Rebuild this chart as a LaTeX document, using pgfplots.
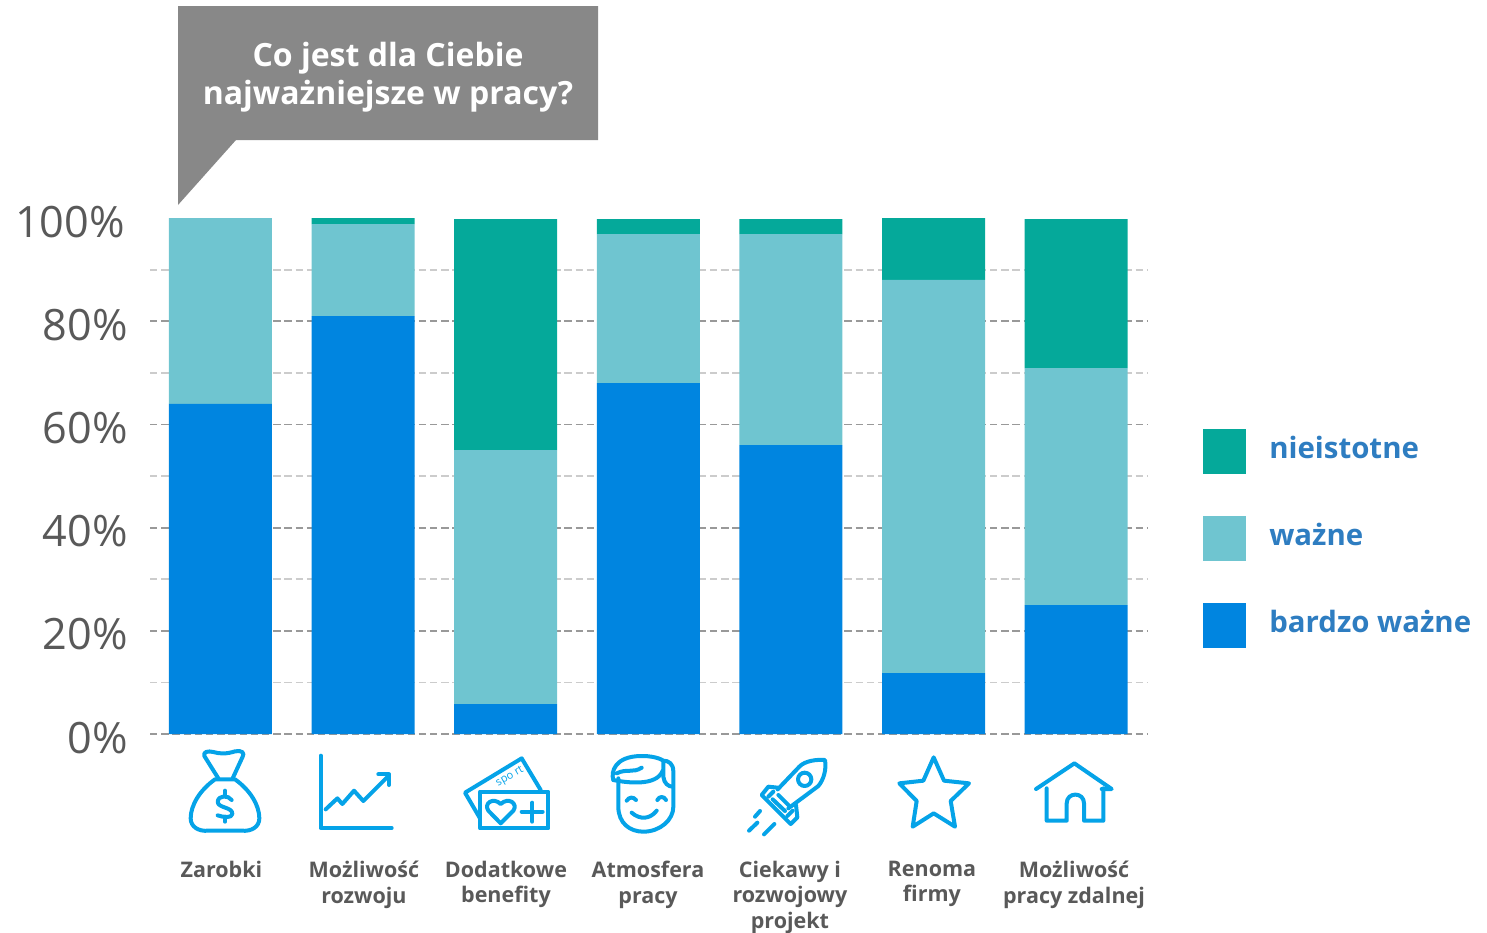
\documentclass[border=0pt]{standalone}
\usepackage{pgfplots}
\pgfplotsset{compat=1.18}
\usepackage{fontspec}
\setmainfont{Open Sans}
\definecolor{cblue}{HTML}{0085E0}
\definecolor{clight}{HTML}{6FC5D0}
\definecolor{cgreen}{HTML}{05A99A}
\definecolor{cicon}{HTML}{05A3E8}
\definecolor{ctext}{HTML}{595959}
\definecolor{clegend}{HTML}{2E7DC1}
\definecolor{ctitle}{HTML}{888888}
\begin{document}
\begin{tikzpicture}
\useasboundingbox (0pt,0pt) rectangle (743.5pt,-466pt);
\begin{axis}[
  at={(75pt,-367pt)},anchor=south west,
  scale only axis,width=499pt,height=258pt,
  ybar stacked,bar width=51.5pt,
  xmin=-0.494,xmax=6.504,ymin=0,ymax=100,
  axis line style={draw=none},
  major tick length=0pt,minor tick length=0pt,
  xtick={0.007,1.006,2.002,2.998,3.993,4.989,5.985},
  xticklabels={Zarobki,{Możliwość\\rozwoju},{Dodatkowe\\benefity},{Atmosfera\\pracy},{Ciekawy i\\rozwojowy\\projekt},{Renoma\\firmy},{Możliwość\\pracy zdalnej}},
  xticklabel style={align=center,yshift=-60pt,font=\fontsize{10.75}{12.75}\selectfont\bfseries,text=ctext},
  ytick={0,20,40,60,80},
  yticklabels={0\%,20\%,40\%,60\%,80\%},
  extra y ticks={100},
  extra y tick labels={100\%},
  extra y tick style={grid=none,yticklabel style={xshift=-1.5pt}},
  minor ytick={10,30,50,70,90},
  yticklabel style={font=\fontsize{21.6}{24}\selectfont,text=ctext,xshift=-7.5pt,yshift=-1.8pt},
  ymajorgrids,yminorgrids,
  major grid style={draw=black!40,line width=0.9pt,dash pattern=on 3.7pt off 1.9pt},
  minor grid style={draw=black!20,line width=0.9pt,dash pattern=on 3.7pt off 1.9pt},
  legend style={at={(1.055,0.6007)},anchor=north west,draw=none,fill=none,inner sep=0pt,
    row sep=18.5pt,column sep=0pt,
    font=\fontsize{14.7}{18}\selectfont\bfseries,text=clegend,
    nodes={inner sep=0pt}},
  legend cell align=left,
  reverse legend,
  legend image code/.code={\fill[#1] (0pt,-13pt) rectangle (21.5pt,9.5pt);\path (33pt,12pt);},
]
\addplot[fill=cblue,draw=none] coordinates {(0,64) (1,81) (2,5.8) (3,68) (4,56) (5,11.8) (6,25)};
\addplot[fill=clight,draw=none] coordinates {(0,36) (1,17.8) (2,49.2) (3,28.9) (4,40.9) (5,76.2) (6,45.9)};
\addplot[fill=cgreen,draw=none] coordinates {(0,0) (1,1.2) (2,44.8) (3,2.9) (4,2.9) (5,12) (6,28.9)};
\legend{bardzo ważne,ważne,nieistotne}
\end{axis}
% speech bubble
\begin{scope}[x=0.5pt,y=-0.5pt]
\fill[ctitle] (178,6)--(598,6)--(598,140)--(236,140)--(178,205)--cycle;
\node[text=white,align=center,font=\fontsize{16}{19}\selectfont\bfseries] at (388,77) {Co jest dla Ciebie\\najważniejsze w pracy?};
\end{scope}
% icons, first part
\begin{scope}[shift={(75pt,-370pt)},x=0.16667pt,y=-0.16667pt,draw=cicon,line width=2pt,line cap=round,line join=round]
\draw (205,115) -- (163,48) .. controls (158,35) and (175,32) .. (190,36) .. controls (210,42) and (230,42) .. (255,34) .. controls (275,30) and (285,38) .. (278,50) -- (248,115);
\draw (195,118) .. controls (150,150) and (122,195) .. (122,235) .. controls (122,260) and (145,275) .. (175,272) -- (275,272) .. controls (305,275) and (328,260) .. (328,235) .. controls (328,195) and (300,150) .. (255,118) -- cycle;
\draw (245,180) .. controls (235,165) and (205,165) .. (203,185) .. controls (203,205) and (248,200) .. (247,222) .. controls (245,235) and (220,232) .. (203,226);
\draw (225,152)--(225,168) (225,230)--(225,245);
\draw (512,47)--(512,264)--(725,264);
\draw (527,208)--(562,175)--(577,192)--(612,152)--(640,183)--(715,108);
\draw (685,103)--(717,103)--(717,135);
\draw (990,235)--(945,158)--(1115,55)--(1172,150);
\draw (990,155) rectangle (1195,265);
\draw (1052,250) -- (1015,212) .. controls (1000,190) and (1030,170) .. (1052,192) .. controls (1075,170) and (1105,190) .. (1090,212) -- cycle;
\draw (1115,215)--(1178,215) (1147,188)--(1147,245);
\node[rotate=30,text=cicon,font=\fontsize{5.5}{6}\selectfont,inner sep=0pt] at (1080,110) {spo rt};
\end{scope}
\begin{scope}[shift={(320pt,-370pt)},x=0.16667pt,y=-0.16667pt,draw=cicon,line width=2pt,line cap=round,line join=round]
% face
\draw (-65,115) -- (-65,200) .. controls (-65,250) and (-30,275) .. (10,275) .. controls (60,275) and (100,240) .. (100,200) -- (100,95) .. controls (100,70) and (85,62) .. (70,62);
\draw (-80,120) .. controls (-88,95) and (-75,50) .. (0,48) .. controls (35,47) and (60,55) .. (70,62) -- (70,110) .. controls (72,130) and (85,140) .. (98,140);
\draw (-80,120) .. controls (-40,128) and (50,140) .. (68,92);
\draw (-70,100) .. controls (-40,85) and (-20,100) .. (5,83);
\draw (-40,182) .. controls (-32,170) and (-20,170) .. (-12,180);
\draw (52,180) .. controls (58,168) and (72,168) .. (78,180);
\draw (-25,218) .. controls (0,240) and (30,238) .. (50,212);
% rocket
\draw (413,148)--(478,80) .. controls (495,62) and (530,58) .. (555,60) .. controls (560,90) and (550,120) .. (535,138)--(445,205);
\draw (413,143)--(385,140)--(365,165)--(452,252)--(472,232)--(468,195);
\draw (398,178)--(435,213) (415,165)--(447,197);
\draw (385,170)--(400,155) (442,228)--(458,212);
\draw (494,118) circle (20);
\draw (345,230)--(360,213) (327,272)--(352,248) (372,283)--(403,252);
% star
\draw (881,52)--(912,122)--(987,130)--(932,183)--(945,260)--(881,220)--(818,260)--(830,183)--(778,130)--(850,122)--cycle;
% house
\draw (1188,147)--(1303,70)--(1415,147)--(1385,147);
\draw (1220,145)--(1220,242)--(1280,242)--(1280,190) .. controls (1280,155) and (1332,155) .. (1332,190)--(1332,242)--(1390,242)--(1390,145);
\end{scope}
\end{tikzpicture}
\end{document}
